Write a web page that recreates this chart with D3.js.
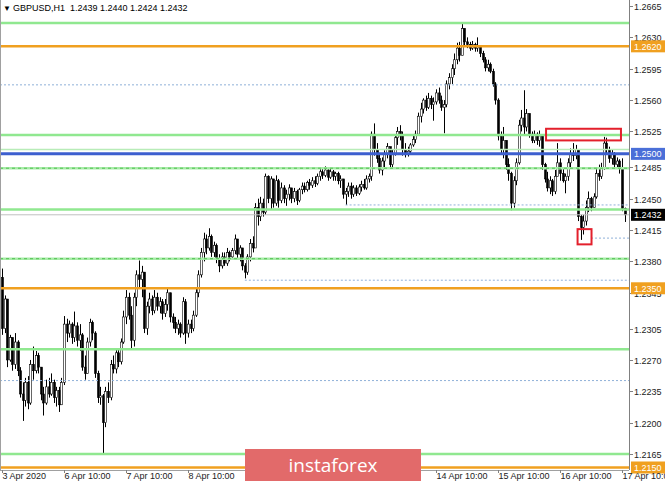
<!DOCTYPE html>
<html>
<head>
<meta charset="utf-8">
<script src="https://cdn.jsdelivr.net/npm/d3@7"></script>
<style>
  body { margin: 0; background: #fff; }
  text { font-family: "Liberation Sans", Arial, sans-serif; }
</style>
</head>
<body>
<div id="chart"></div>
<script>
// GBPUSD H1, 3 Apr 10:00 .. 17 Apr 11:00 (bar index 0..241)
var firstOpen = 1.2362;
var closes = [1.2305,1.2338,1.2270,1.2295,1.2265,1.2290,1.2258,1.2232,1.2225,1.2245,1.2222,1.2265,1.2258,1.2275,1.2262,1.2232,1.2222,1.2240,1.2232,1.2245,
  1.2228,1.2236,1.2220,1.2245,1.2310,1.2300,1.2310,1.2295,1.2308,1.2292,1.2298,1.2262,1.2255,1.2290,1.2312,1.2300,1.2255,1.2228,1.2230,1.2200,
  1.2235,1.2228,1.2265,1.2260,1.2278,1.2268,1.2290,1.2318,1.2340,1.2320,1.2292,1.2340,1.2365,1.2360,1.2368,1.2305,1.2330,1.2338,1.2325,1.2340,
  1.2330,1.2335,1.2322,1.2332,1.2345,1.2318,1.2312,1.2305,1.2310,1.2300,1.2335,1.2300,1.2310,1.2305,1.2320,1.2345,1.2365,1.2390,1.2405,1.2395,
  1.2408,1.2390,1.2398,1.2382,1.2375,1.2385,1.2378,1.2390,1.2385,1.2392,1.2405,1.2388,1.2395,1.2375,1.2368,1.2385,1.2400,1.2395,1.2440,1.2430,
  1.2445,1.2435,1.2475,1.2450,1.2472,1.2445,1.2470,1.2448,1.2462,1.2450,1.2455,1.2462,1.2450,1.2458,1.2448,1.2460,1.2464,1.2460,1.2468,1.2465,
  1.2470,1.2467,1.2475,1.2480,1.2476,1.2482,1.2474,1.2480,1.2475,1.2478,1.2470,1.2472,1.2455,1.2458,1.2464,1.2455,1.2462,1.2456,1.2463,1.2466,
  1.2462,1.2472,1.2475,1.2522,1.2505,1.2495,1.2482,1.2492,1.2500,1.2508,1.2488,1.2500,1.2518,1.2525,1.2520,1.2505,1.2500,1.2503,1.2510,1.2516,
  1.2522,1.2542,1.2550,1.2560,1.2552,1.2562,1.2555,1.2558,1.2568,1.2560,1.2552,1.2555,1.2578,1.2585,1.2595,1.2605,1.2618,1.2610,1.2640,1.2625,
  1.2622,1.2618,1.2622,1.2618,1.2620,1.2612,1.2605,1.2596,1.2600,1.2592,1.2578,1.2560,1.2520,1.2505,1.2515,1.2488,1.2478,1.2445,1.2470,1.2490,
  1.2532,1.2540,1.2530,1.2545,1.2522,1.2515,1.2522,1.2515,1.2520,1.2488,1.2472,1.2462,1.2470,1.2458,1.2475,1.2490,1.2478,1.2470,1.2475,1.2490,
  1.2500,1.2498,1.2505,1.2430,1.2418,1.2425,1.2440,1.2450,1.2440,1.2452,1.2478,1.2475,1.2485,1.2512,1.2505,1.2495,1.2500,1.2488,1.2492,1.2484,
  1.2439,1.2432];
var highs = [1.2372,1.2342,1.2335,1.2298,1.2292,1.2300,1.2292,1.2262,1.2245,1.2250,1.2252,1.2270,1.2285,1.2280,1.2278,1.2262,1.2240,1.2248,1.2250,1.2255,
  1.2248,1.2240,1.2240,1.2250,1.2319,1.2316,1.2314,1.2312,1.2324,1.2312,1.2310,1.2300,1.2275,1.2295,1.2316,1.2314,1.2302,1.2258,1.2240,1.2232,
  1.2240,1.2245,1.2270,1.2275,1.2282,1.2282,1.2294,1.2325,1.2348,1.2345,1.2330,1.2345,1.2370,1.2381,1.2375,1.2368,1.2335,1.2345,1.2342,1.2348,
  1.2345,1.2340,1.2338,1.2338,1.2350,1.2345,1.2322,1.2318,1.2315,1.2312,1.2340,1.2338,1.2315,1.2315,1.2325,1.2350,1.2370,1.2395,1.2412,1.2410,
  1.2417,1.2410,1.2402,1.2400,1.2388,1.2390,1.2390,1.2395,1.2392,1.2395,1.2410,1.2405,1.2398,1.2395,1.2378,1.2388,1.2405,1.2408,1.2445,1.2450,
  1.2452,1.2450,1.2478,1.2476,1.2475,1.2470,1.2476,1.2472,1.2468,1.2465,1.2460,1.2466,1.2462,1.2462,1.2460,1.2462,1.2468,1.2468,1.2470,1.2472,
  1.2474,1.2475,1.2478,1.2483,1.2485,1.2486,1.2485,1.2484,1.2482,1.2480,1.2480,1.2476,1.2472,1.2462,1.2468,1.2468,1.2465,1.2465,1.2466,1.2470,
  1.2472,1.2476,1.2478,1.2525,1.2534,1.2512,1.2500,1.2496,1.2504,1.2512,1.2508,1.2505,1.2522,1.2530,1.2532,1.2525,1.2512,1.2508,1.2512,1.2520,
  1.2526,1.2546,1.2557,1.2562,1.2565,1.2568,1.2565,1.2563,1.2572,1.2574,1.2565,1.2560,1.2582,1.2590,1.2600,1.2612,1.2624,1.2625,1.2646,1.2640,
  1.2630,1.2625,1.2626,1.2624,1.2630,1.2620,1.2615,1.2608,1.2605,1.2602,1.2595,1.2580,1.2562,1.2525,1.2530,1.2515,1.2495,1.2480,1.2475,1.2495,
  1.2538,1.2549,1.2571,1.2550,1.2545,1.2525,1.2526,1.2524,1.2526,1.2520,1.2490,1.2480,1.2475,1.2472,1.2482,1.2512,1.2495,1.2485,1.2478,1.2495,
  1.2506,1.2512,1.2510,1.2505,1.2432,1.2432,1.2448,1.2458,1.2452,1.2456,1.2484,1.2488,1.2490,1.2519,1.2518,1.2508,1.2505,1.2502,1.2496,1.2494,
  1.2495,1.2440];
var lows = [1.2298,1.2300,1.2262,1.2268,1.2258,1.2260,1.2252,1.2228,1.2202,1.2218,1.2215,1.2220,1.2248,1.2255,1.2255,1.2225,1.2208,1.2220,1.2228,1.2230,
  1.2222,1.2218,1.2212,1.2220,1.2242,1.2290,1.2295,1.2288,1.2290,1.2285,1.2280,1.2258,1.2248,1.2260,1.2285,1.2292,1.2250,1.2222,1.2220,1.2166,
  1.2195,1.2222,1.2225,1.2255,1.2255,1.2262,1.2265,1.2288,1.2310,1.2315,1.2282,1.2285,1.2330,1.2350,1.2340,1.2300,1.2298,1.2322,1.2320,1.2322,
  1.2325,1.2322,1.2315,1.2318,1.2325,1.2312,1.2305,1.2300,1.2298,1.2295,1.2298,1.2288,1.2295,1.2300,1.2302,1.2318,1.2340,1.2362,1.2380,1.2388,
  1.2392,1.2385,1.2385,1.2378,1.2368,1.2372,1.2375,1.2375,1.2380,1.2382,1.2388,1.2382,1.2380,1.2370,1.2361,1.2365,1.2380,1.2390,1.2395,1.2420,
  1.2425,1.2430,1.2432,1.2445,1.2438,1.2440,1.2442,1.2440,1.2445,1.2445,1.2442,1.2448,1.2445,1.2446,1.2443,1.2446,1.2455,1.2457,1.2458,1.2460,
  1.2462,1.2463,1.2465,1.2470,1.2472,1.2474,1.2470,1.2472,1.2470,1.2470,1.2466,1.2462,1.2450,1.2443,1.2452,1.2450,1.2452,1.2453,1.2454,1.2458,
  1.2460,1.2460,1.2468,1.2470,1.2498,1.2490,1.2478,1.2476,1.2485,1.2495,1.2485,1.2485,1.2498,1.2510,1.2515,1.2498,1.2496,1.2497,1.2500,1.2508,
  1.2512,1.2520,1.2535,1.2545,1.2548,1.2550,1.2550,1.2537,1.2555,1.2556,1.2548,1.2523,1.2552,1.2572,1.2578,1.2588,1.2600,1.2603,1.2615,1.2620,
  1.2618,1.2615,1.2616,1.2614,1.2614,1.2608,1.2602,1.2592,1.2592,1.2590,1.2575,1.2555,1.2515,1.2500,1.2495,1.2482,1.2470,1.2437,1.2440,1.2465,
  1.2488,1.2525,1.2522,1.2525,1.2518,1.2512,1.2512,1.2510,1.2508,1.2482,1.2468,1.2458,1.2455,1.2453,1.2455,1.2475,1.2470,1.2468,1.2456,1.2470,
  1.2485,1.2492,1.2494,1.2425,1.2404,1.2410,1.2420,1.2435,1.2436,1.2440,1.2450,1.2470,1.2472,1.2482,1.2500,1.2490,1.2488,1.2484,1.2484,1.2478,
  1.2436,1.2424];

// time axis: bar index of each visible label
var timeTicks = [0, 24, 48, 72, 168, 192, 216, 240];
var timeLabels = ["3 Apr 2020", "6 Apr 10:00", "7 Apr 10:00", "8 Apr 10:00",
  "14 Apr 10:00", "15 Apr 10:00", "16 Apr 10:00", "17 Apr 10:00"];
var priceTicks = [1.2665, 1.2630, 1.2595, 1.2560, 1.2525, 1.2485, 1.2450, 1.2415, 1.2380, 1.2345,
  1.2305, 1.2270, 1.2235, 1.2200, 1.2165];

// drawn levels
var greenLevels = [1.2646, 1.2521, 1.2438, 1.2282, 1.2165];
var greenDashLevels = [1.2484, 1.2383];
var paleGreenLevels = [1.2505];
var orangeLevels = [1.2620, 1.2350, 1.2150];
var blueLevels = [1.2500];
var dottedLevels = [1.2577, 1.2443, 1.2406, 1.2359, 1.2247];
var dottedFrom = [0, 133, 228, 94, 0];
var bidPrice = 1.2432;
var boxes = [[210.6, 239.6, 1.2528, 1.2515], [222.8, 228.2, 1.2416, 1.2399]];

var W = 665, H = 481, axisX = 629, plotBottom = 470;

var svg = d3.select("#chart").append("svg")
  .attr("width", W).attr("height", H)
  .style("display", "block");

svg.append("rect").attr("width", W).attr("height", H).attr("fill", "#fff");

var x = d3.scaleLinear().domain([0, 240]).range([2, 622]);
var y = d3.scaleLinear().domain([1.2150, 1.2665]).range([467.5, 6]);

var bars = closes.map(function (c, i) {
  var o = i === 0 ? firstOpen : closes[i - 1];
  return { i: i, o: o, c: c, h: Math.max(highs[i], o, c), l: Math.min(lows[i], o, c) };
});

var chart = svg.append("g");

// candles
var candle = chart.selectAll(".bar").data(bars).enter().append("g").attr("class", "bar");
candle.append("line")
  .attr("x1", d => Math.round(x(d.i)) + 0.5).attr("x2", d => Math.round(x(d.i)) + 0.5)
  .attr("y1", d => y(d.h)).attr("y2", d => y(d.l))
  .attr("stroke", "#000").attr("stroke-width", 1);
candle.append("rect")
  .attr("x", d => Math.round(x(d.i)) - 0.5)
  .attr("width", 2)
  .attr("y", d => y(Math.max(d.o, d.c)))
  .attr("height", d => Math.max(1, Math.abs(y(d.o) - y(d.c))))
  .attr("fill", d => d.c >= d.o ? "#fff" : "#000")
  .attr("stroke", "#000").attr("stroke-width", 0.6);

// levels
function hline(p, x0, color, width, dash) {
  chart.append("line")
    .attr("x1", x0).attr("x2", axisX)
    .attr("y1", y(p)).attr("y2", y(p))
    .attr("stroke", color).attr("stroke-width", width)
    .attr("stroke-dasharray", dash || null);
}
hline(bidPrice, 0, "#c0c0c0", 1);
dottedLevels.forEach((p, k) => hline(p, dottedFrom[k] ? x(dottedFrom[k]) : 0, "#8fb0d8", 1, "2,2"));
paleGreenLevels.forEach(p => hline(p, 0, "#b8ecb8", 1.5));
greenLevels.forEach(p => hline(p, 0, "#90e890", 2.5));
greenDashLevels.forEach(p => {
  hline(p, 0, "#a8eca8", 2.5);
  hline(p, 0, "#50c050", 1, "3,3");
});
orangeLevels.forEach(p => hline(p, 0, "#f0a020", 2.5));
blueLevels.forEach(p => hline(p, 0, "#3d5fcf", 3));

// red boxes
chart.selectAll(".box").data(boxes).enter().append("rect")
  .attr("x", d => x(d[0])).attr("width", d => x(d[1]) - x(d[0]))
  .attr("y", d => y(d[2])).attr("height", d => y(d[3]) - y(d[2]))
  .attr("fill", "none").attr("stroke", "#e3202c").attr("stroke-width", 2);

// frame
svg.append("line").attr("x1", 0.5).attr("x2", 0.5).attr("y1", 0).attr("y2", plotBottom)
  .attr("stroke", "#a0a0a0");
svg.append("line").attr("x1", axisX + 0.5).attr("x2", axisX + 0.5).attr("y1", 0).attr("y2", plotBottom)
  .attr("stroke", "#808080");
svg.append("line").attr("x1", 0).attr("x2", axisX).attr("y1", plotBottom + 0.5).attr("y2", plotBottom + 0.5)
  .attr("stroke", "#a0a0a0");

// price axis
var pa = svg.append("g");
priceTicks.forEach(p => {
  var yy = Math.round(y(p)) + 0.5;
  pa.append("line").attr("x1", axisX).attr("x2", axisX + 4).attr("y1", yy).attr("y2", yy).attr("stroke", "#808080");
  pa.append("text").attr("x", 634).attr("y", yy + 3.5).attr("font-size", 9).attr("fill", "#222")
    .text(d3.format(".4f")(p));
});

// coloured price tags
var tags = [[1.2620, "#f0a020"], [1.2500, "#4a6fd8"], [1.2432, "#000"], [1.2350, "#f0a020"], [1.2150, "#f0a020"]];
tags.forEach(t => {
  var yy = y(t[0]);
  pa.append("rect").attr("x", axisX + 2).attr("y", yy - 6).attr("width", W - axisX - 2).attr("height", 12)
    .attr("fill", t[1]);
  pa.append("text").attr("x", 634).attr("y", yy + 3.5).attr("font-size", 9).attr("fill", "#fff")
    .text(d3.format(".4f")(t[0]));
});

// time axis
var ta = svg.append("g");
timeTicks.forEach((b, k) => {
  var xx = Math.round(x(b)) + 0.5;
  ta.append("line").attr("x1", xx).attr("x2", xx).attr("y1", plotBottom).attr("y2", plotBottom + 3).attr("stroke", "#808080");
  ta.append("text").attr("x", xx).attr("y", 479).attr("font-size", 9).attr("fill", "#222").text(timeLabels[k]);
});

// header
svg.append("text").attr("x", 3).attr("y", 11).attr("font-size", 8).attr("fill", "#000").text("\u25BC");
svg.append("text").attr("x", 13).attr("y", 11).attr("font-size", 9).attr("fill", "#000")
  .attr("xml:space", "preserve").text("GBPUSD,H1  1.2439 1.2440 1.2424 1.2432");

// watermark
svg.append("rect").attr("x", 245).attr("y", 449).attr("width", 176).attr("height", 32).attr("fill", "#e26a6a");
svg.append("text").attr("x", 333).attr("y", 472).attr("text-anchor", "middle")
  .attr("font-size", 19).attr("fill", "#fff").style("font-family", "'Open Sans', sans-serif")
  .text("instaforex");
</script>
</body>
</html>
